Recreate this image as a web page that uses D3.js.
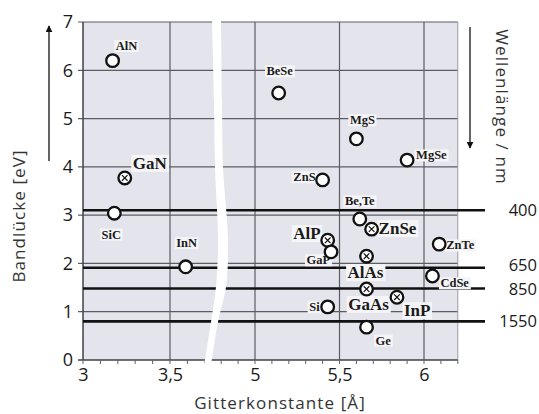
<!DOCTYPE html>
<html>
<head>
<meta charset="utf-8">
<script src="https://cdn.jsdelivr.net/npm/d3@7"></script>
<style>
  body { margin: 0; background: #fff; }
  svg { display: block; }
</style>
</head>
<body>
<svg id="chart" width="539" height="414"></svg>
<script>
// Semiconductor compounds: lattice constant (Å) and band gap (eV)
const compounds    = ["AlN", "GaN", "SiC", "InN", "BeSe", "ZnS", "MgS", "MgSe", "Be,Te", "ZnSe",
                      "AlP", "GaP", "AlAs", "GaAs", "InP", "Si", "Ge", "ZnTe", "CdSe"];
const latticeConst = [3.17, 3.24, 3.18, 3.59, 5.14, 5.40, 5.60, 5.90, 5.62, 5.69,
                      5.43, 5.45, 5.66, 5.66, 5.84, 5.43, 5.66, 6.09, 6.05];
const bandGap      = [6.20, 3.77, 3.04, 1.93, 5.53, 3.73, 4.58, 4.14, 2.92, 2.71,
                      2.48, 2.24, 2.15, 1.47, 1.30, 1.10, 0.68, 2.40, 1.74];
// compounds drawn with a crossed marker and an emphasised label
const emphasised   = [false, true, false, false, false, false, false, false, false, true,
                      true, false, true, true, true, false, false, false, false];

// Emission wavelengths (nm) and their photon energies (eV)
const wavelengths      = [400, 650, 850, 1550];
const wavelengthEnergy = [3.10, 1.91, 1.48, 0.80];
// vertical nudge of each wavelength label (px)
const wavelengthLabelShift = [0, -3, 1, 0];

// Axis ticks
const xTicksLow  = [3, 3.5];
const xTicksHigh = [5, 5.5, 6];
const yTicks     = [0, 1, 2, 3, 4, 5, 6, 7];

// Label placement relative to each marker: [dx, dy, anchor]
const labelPlacement = [
  [14, -15, "middle"], [8, -15, "start"], [-3, 21, "middle"], [1, -24, "middle"],
  [1, -22, "middle"], [-7, -3, "end"], [6, -19, "middle"], [9, -5, "start"],
  [0, -18, "middle"], [7, -1, "start"], [-7, -7, "end"], [-1, 8, "end"],
  [-1, 16, "middle"], [2, 15, "middle"], [7, 13, "start"], [-8, 0, "end"],
  [9, 13, "start"], [7, 1, "start"], [8, 7, "start"]
];

const svg = d3.select("#chart");
const deLocale = d3.formatLocale({ decimal: ",", thousands: ".", grouping: [3], currency: ["", " €"] });
const fmt = deLocale.format("~g");

// Broken x axis: two linear pieces
const xLow  = d3.scaleLinear().domain([3, 3.5]).range([83, 170]);
const xHigh = d3.scaleLinear().domain([5, 6]).range([255, 424]);
const x = v => (v < 4.2 ? xLow(v) : xHigh(v));
const y = d3.scaleLinear().domain([0, 7]).range([360, 22]);

const plotLeft = x(3), plotRight = xHigh(6.2), plotTop = y(7), plotBottom = y(0);
const sansFont = "'Open Sans', 'Noto Sans', sans-serif";
const serifFont = "'Liberation Serif', 'DejaVu Serif', serif";

// plot background
svg.append("rect")
  .attr("x", plotLeft).attr("y", plotTop)
  .attr("width", plotRight - plotLeft).attr("height", plotBottom - plotTop)
  .attr("fill", "#e4e4ec");

// grid
const grid = svg.append("g").attr("stroke", "#5c5c64").attr("stroke-width", 1.2);
grid.selectAll("line.h").data(yTicks.filter(d => d > 0)).join("line")
  .attr("x1", plotLeft - 5).attr("x2", plotRight)
  .attr("y1", d => y(d)).attr("y2", d => y(d));
grid.selectAll("line.vl").data(xTicksLow.slice(1)).join("line")
  .attr("x1", d => xLow(d)).attr("x2", d => xLow(d))
  .attr("y1", plotTop).attr("y2", plotBottom);
grid.selectAll("line.vh").data(xTicksHigh).join("line")
  .attr("x1", d => xHigh(d)).attr("x2", d => xHigh(d))
  .attr("y1", plotTop).attr("y2", plotBottom);
// frame
svg.append("line").attr("x1", plotLeft).attr("x2", plotLeft).attr("y1", plotTop).attr("y2", plotBottom)
  .attr("stroke", "#404048").attr("stroke-width", 1.5);
svg.append("line").attr("x1", plotRight).attr("x2", plotRight).attr("y1", plotTop).attr("y2", plotBottom)
  .attr("stroke", "#9a9aa2").attr("stroke-width", 1);
svg.append("line").attr("x1", plotLeft - 5).attr("x2", plotRight).attr("y1", plotBottom).attr("y2", plotBottom)
  .attr("stroke", "#404048").attr("stroke-width", 1.5);

// minor ticks on the x axis
const minorLow  = d3.range(3, 3.75, 0.1);
const minorHigh = d3.range(4.8, 6.21, 0.1);
svg.append("g").attr("stroke", "#606068").attr("stroke-width", 1)
  .selectAll("line").data(minorLow.map(xLow).concat(minorHigh.map(xHigh))).join("line")
  .attr("x1", d => d).attr("x2", d => d)
  .attr("y1", plotBottom).attr("y2", plotBottom + 4);

// wavelength lines
svg.append("g").attr("stroke", "#111").attr("stroke-width", 2.6)
  .selectAll("line").data(wavelengthEnergy).join("line")
  .attr("x1", plotLeft).attr("x2", 485)
  .attr("y1", d => y(d)).attr("y2", d => y(d));
svg.append("g").selectAll("text").data(wavelengths).join("text")
  .attr("x", 537).attr("y", (d, i) => y(wavelengthEnergy[i]) + wavelengthLabelShift[i])
  .attr("dy", "0.36em").attr("text-anchor", "end")
  .attr("font-family", sansFont).attr("font-size", 16.5).attr("fill", "#1a1a1a")
  .text(d => d);

// axis break band
const bandLeft  = [[212, 16], [214, 100], [215, 167], [218, 240], [216, 287], [211, 322], [204, 366]];
const bandRight = [[221, 16], [222, 100], [223, 167], [228, 240], [226, 287], [218, 322], [211, 366]];
const bandLine = d3.line().curve(d3.curveCatmullRom);
svg.append("path")
  .attr("d", bandLine(bandLeft) + "L" + bandLine(bandRight.slice().reverse()).slice(1) + "Z")
  .attr("fill", "#fff");

// tick labels
const xAxisLow = d3.axisBottom(xLow).tickValues(xTicksLow).tickSize(0).tickPadding(8).tickFormat(fmt);
const xAxisHigh = d3.axisBottom(xHigh).tickValues(xTicksHigh).tickSize(0).tickPadding(8).tickFormat(fmt);
const yAxis = d3.axisLeft(y).tickValues(yTicks).tickSize(0).tickPadding(10).tickFormat(fmt);
[svg.append("g").attr("transform", `translate(0,${plotBottom})`).call(xAxisLow),
 svg.append("g").attr("transform", `translate(0,${plotBottom})`).call(xAxisHigh),
 svg.append("g").attr("transform", `translate(${plotLeft},0)`).call(yAxis)]
  .forEach(g => {
    g.select(".domain").remove();
    g.selectAll("text").attr("font-family", sansFont).attr("font-size", 18).attr("fill", "#1a1a1a");
  });

// compound labels with light boxes
const pts = compounds.map((name, i) => ({
  name, a: latticeConst[i], eg: bandGap[i], em: emphasised[i], place: labelPlacement[i]
}));
const labels = svg.append("g");
pts.forEach(p => {
  const g = labels.append("g");
  const t = g.append("text")
    .attr("x", x(p.a) + p.place[0]).attr("y", y(p.eg) + p.place[1])
    .attr("dy", "0.35em").attr("text-anchor", p.place[2])
    .attr("font-family", serifFont)
    .attr("font-weight", "bold").attr("font-size", p.em ? 17 : 12.5)
    .attr("fill", "#1a1a1a")
    .text(p.name);
  const bb = t.node().getBBox();
  g.insert("rect", "text")
    .attr("x", bb.x - 1.5).attr("y", bb.y + 1)
    .attr("width", bb.width + 3).attr("height", bb.height - 2)
    .attr("fill", "#f5f5f8");
});

// markers
const marks = svg.append("g").selectAll("g").data(pts).join("g")
  .attr("transform", d => `translate(${x(d.a)},${y(d.eg)})`);
marks.append("circle").attr("r", 6.3)
  .attr("fill", "#fff").attr("stroke", "#111").attr("stroke-width", 2.3);
marks.filter(d => d.em).append("path")
  .attr("d", "M-2.8,-2.8L2.8,2.8M-2.8,2.8L2.8,-2.8")
  .attr("stroke", "#111").attr("stroke-width", 1.2);

// axis titles
const titleStyle = sel => sel
  .attr("text-anchor", "middle")
  .attr("font-family", sansFont).attr("font-size", 17)
  .attr("letter-spacing", 1.1).attr("fill", "#333");
svg.append("text")
  .attr("transform", `translate(25,216) rotate(-90)`)
  .call(titleStyle)
  .text("Bandlücke [eV]");
svg.append("text")
  .attr("x", 280).attr("y", 409)
  .call(titleStyle)
  .text("Gitterkonstante [Å]");
svg.append("text")
  .attr("transform", "translate(496,107) rotate(90)")
  .call(titleStyle)
  .text("Wellenlänge / nm");

// direction arrows
svg.append("defs").append("marker")
  .attr("id", "arrowHead").attr("viewBox", "0 0 10 10")
  .attr("refX", 9).attr("refY", 5)
  .attr("markerWidth", 7).attr("markerHeight", 7)
  .attr("markerUnits", "userSpaceOnUse").attr("orient", "auto")
  .append("path").attr("d", "M0,0L10,5L0,10Z").attr("fill", "#111");
svg.append("line").attr("x1", 49).attr("x2", 49).attr("y1", 161).attr("y2", 26)
  .attr("stroke", "#111").attr("stroke-width", 1.3).attr("marker-end", "url(#arrowHead)");
svg.append("line").attr("x1", 470).attr("x2", 470).attr("y1", 27).attr("y2", 148)
  .attr("stroke", "#111").attr("stroke-width", 1.3).attr("marker-end", "url(#arrowHead)");
</script>
</body>
</html>
